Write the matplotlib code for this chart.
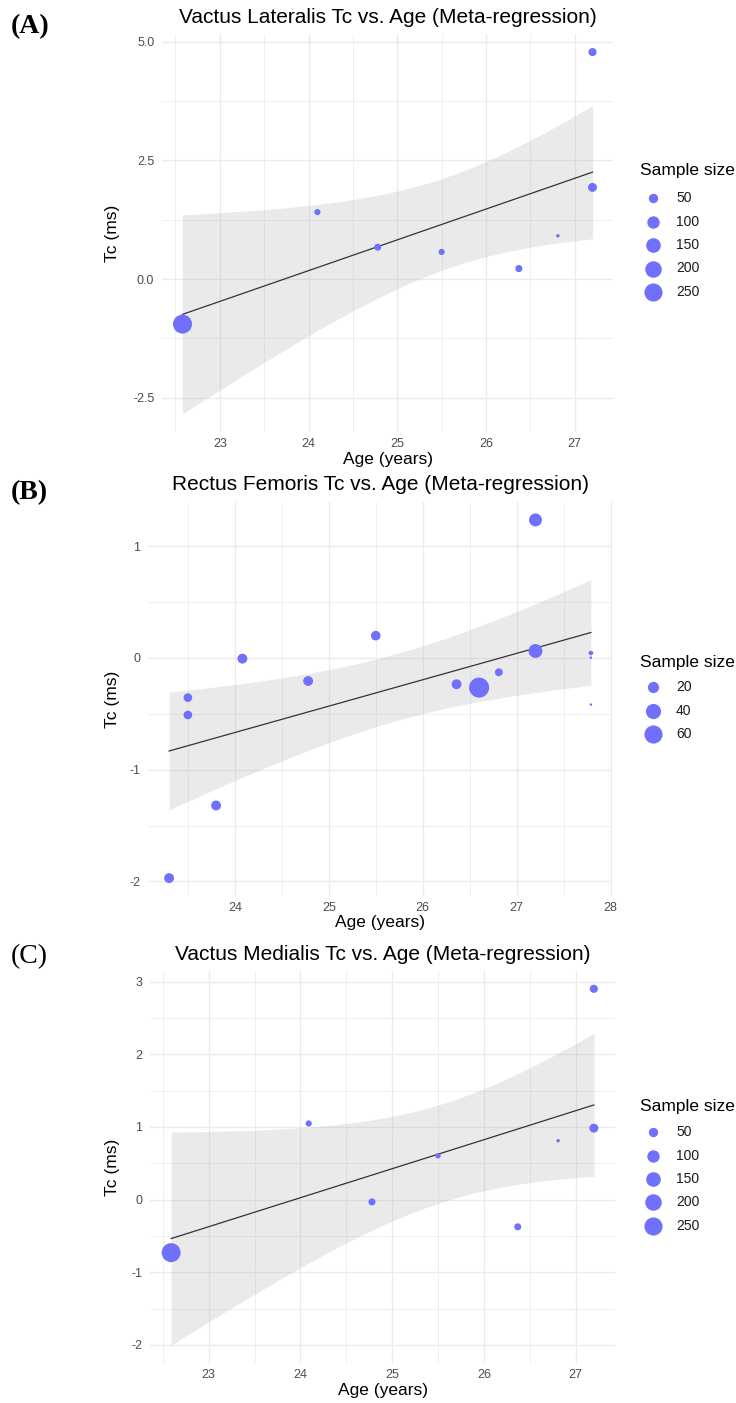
import numpy as np
import matplotlib
matplotlib.use("Agg")
import matplotlib.pyplot as plt
from matplotlib.lines import Line2D
from matplotlib.ticker import MultipleLocator

plt.rcParams['font.family'] = ['Liberation Sans', 'DejaVu Sans']
plt.rcParams['axes.unicode_minus'] = False

W, H = 736, 1403

# (A) vastus lateralis
vl_age = [22.58, 24.10, 24.78, 25.50, 26.37, 26.81, 27.20, 27.20]
vl_tc = [-0.95, 1.41, 0.67, 0.57, 0.22, 0.91, 1.93, 4.78]
vl_n = [280, 20, 26, 20, 26, 12, 45, 36]

# (B) rectus femoris
rf_age = [23.30, 23.50, 23.50, 23.80, 24.08, 24.78, 25.50, 26.36,
          26.60, 26.81, 27.20, 27.20, 27.79, 27.79, 27.79]
rf_tc = [-1.97, -0.355, -0.51, -1.32, -0.006, -0.206, 0.20, -0.235,
         -0.265, -0.128, 1.236, 0.063, 0.045, 0.003, -0.417]
rf_n = [15, 11, 11, 15, 15, 15, 14, 15, 75, 9, 28, 33, 3, 2, 2]

# (C) vastus medialis
vm_age = [22.59, 24.09, 24.78, 25.50, 26.37, 26.81, 27.20, 27.20]
vm_tc = [-0.73, 1.047, -0.032, 0.603, -0.375, 0.81, 0.983, 2.90]
vm_n = [280, 20, 26, 16, 26, 12, 45, 36]

POINT_COL = (0.44, 0.44, 0.98)
GRID_COL = '#ebebeb'


def px(x, y):
    """pixel coords (top-left origin) -> figure fraction"""
    return x / W, 1 - y / H


def diam(n, nmin, nmax, dmin, dmax):
    n = np.asarray(n, dtype=float)
    return dmin + (dmax - dmin) * np.sqrt((n - nmin) / (nmax - nmin))


def panel(fig, box, x, y, n, p):
    l, t, r, b = box
    ax = fig.add_axes([l / W, 1 - b / H, (r - l) / W, (b - t) / H])
    x = np.asarray(x)
    y = np.asarray(y)

    # linear fit + 95% band, like geom_smooth(method="lm")
    k, c = np.polyfit(x, y, 1)
    res = y - (k * x + c)
    s = np.sqrt(np.sum(res ** 2) / (len(x) - 2))
    sxx = np.sum((x - x.mean()) ** 2)
    xs = np.linspace(x.min(), x.max(), 80)
    fit = k * xs + c
    se = s * np.sqrt(1 / len(x) + (xs - x.mean()) ** 2 / sxx)
    ax.fill_between(xs, fit - 1.96 * se, fit + 1.96 * se, color='#b0b0b0',
                    alpha=0.26, lw=0, zorder=2)
    ax.plot(xs, fit, color='#333333', lw=0.9, zorder=3)

    d = diam(n, p['nmin'], p['nmax'], p['dmin'], p['dmax'])
    ax.scatter(x, y, s=(d * 72 / 100) ** 2, color=POINT_COL, lw=0, zorder=4)

    ax.margins(0.05)
    ax.set_xticks(p['xticks'])
    ax.set_yticks(p['yticks'])
    ax.set_yticklabels(p['ylabels'])
    ax.xaxis.set_minor_locator(MultipleLocator(p['xminor']))
    ax.yaxis.set_minor_locator(MultipleLocator(p['yminor']))
    ax.grid(True, which='major', color=GRID_COL, lw=1.0, zorder=0)
    ax.grid(True, which='minor', color=GRID_COL, lw=0.55, zorder=0)
    ax.set_axisbelow(True)
    for sp in ax.spines.values():
        sp.set_visible(False)
    ax.tick_params(which='both', length=0, labelsize=9, labelcolor='#4d4d4d')
    ax.tick_params(axis='x', pad=4.5)
    ax.tick_params(axis='y', pad=5.5)

    cx = (l + r) / 2
    fig.text(*px(cx, p['title_y']), p['title'], ha='center', va='center',
             fontsize=15)
    fig.text(*px(cx, p['xlab_y']), 'Age (years)', ha='center', va='center',
             fontsize=12.5)
    fig.text(*px(113, (t + b) / 2), 'Tc (ms)', ha='center', va='center',
             rotation=90, fontsize=12.5)
    fig.text(*px(11, p['letter_y']), p['letter'], ha='left', va='center',
             fontsize=20, family='Liberation Serif', weight=p['weight'])

    # size legend
    fig.text(*px(640, p['leg_y'][0]), 'Sample size', ha='left', va='center',
             fontsize=12.5)
    ld = diam(p['leg_vals'], p['nmin'], p['nmax'], p['dmin'], p['dmax'])
    for v, dd, yy in zip(p['leg_vals'], ld, p['leg_y'][1:]):
        fig.add_artist(Line2D([653 / W], [1 - yy / H], marker='o', ls='',
                              markersize=dd * 0.72, color=POINT_COL, mew=0,
                              transform=fig.transFigure))
        fig.text(*px(676, yy), str(v), ha='left', va='center', fontsize=10,
                 color='#1a1a1a')
    return ax


fig = plt.figure(figsize=(W / 100, H / 100), dpi=100)

panel(fig, (162, 34, 613, 432), vl_age, vl_tc, vl_n, dict(
    title='Vactus Lateralis Tc vs. Age (Meta-regression)', title_y=17.5,
    xlab_y=460, letter='(A)', letter_y=27, weight='bold',
    xticks=[23, 24, 25, 26, 27], yticks=[-2.5, 0, 2.5, 5.0],
    ylabels=['-2.5', '0.0', '2.5', '5.0'], xminor=0.5, yminor=1.25,
    nmin=12, nmax=280, dmin=3.5, dmax=19,
    leg_vals=[50, 100, 150, 200, 250],
    leg_y=[171, 198, 221.5, 245, 268.5, 292]))

panel(fig, (148, 502, 612, 896), rf_age, rf_tc, rf_n, dict(
    title='Rectus Femoris Tc vs. Age (Meta-regression)', title_y=485,
    xlab_y=923, letter='(B)', letter_y=493, weight='bold',
    xticks=[24, 25, 26, 27, 28], yticks=[-2, -1, 0, 1],
    ylabels=['-2', '-1', '0', '1'], xminor=0.5, yminor=0.5,
    nmin=2, nmax=75, dmin=2.5, dmax=20,
    leg_vals=[20, 40, 60],
    leg_y=[662, 687, 711, 734]))

panel(fig, (150, 971, 615, 1363), vm_age, vm_tc, vm_n, dict(
    title='Vactus Medialis Tc vs. Age (Meta-regression)', title_y=954,
    xlab_y=1391, letter='(C)', letter_y=957, weight='normal',
    xticks=[23, 24, 25, 26, 27], yticks=[-2, -1, 0, 1, 2, 3],
    ylabels=['-2', '-1', '0', '1', '2', '3'], xminor=0.5, yminor=0.5,
    nmin=12, nmax=280, dmin=3.5, dmax=19,
    leg_vals=[50, 100, 150, 200, 250],
    leg_y=[1106, 1132, 1156, 1179, 1202, 1226]))

fig.savefig('out.png', dpi=100)
